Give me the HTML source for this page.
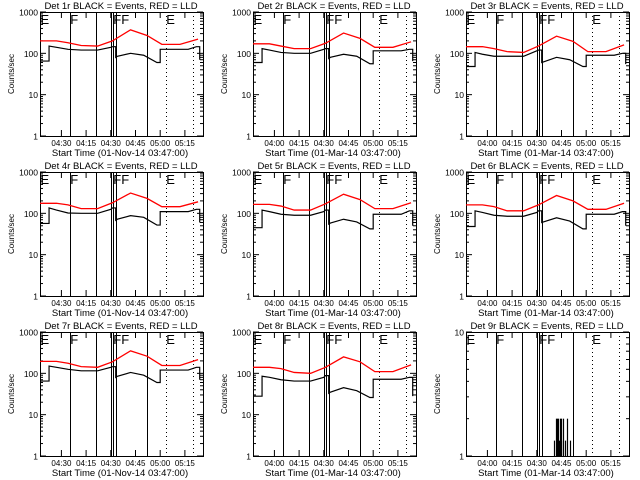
<!DOCTYPE html>
<html><head><meta charset="utf-8"><style>
html,body{margin:0;padding:0;background:#fff;}
svg{display:block;font-family:"Liberation Sans",sans-serif;}
</style></head><body>
<svg id="c" width="640" height="480" xmlns="http://www.w3.org/2000/svg"></svg>
<script>
const tBlack=[0,5,5.5,10,17,25,35,43,44,46,47,55,63,71,72,73,80,90,95,96,97];
const tRed=[0,10,17,25,35,44,55,65,74,85,96];
const detNames=["1r","2r","3r","4r","5r","6r","7r","8r","9r"];
const dates=["01-Nov-14","01-Mar-14","01-Mar-14","01-Nov-14","01-Mar-14","01-Mar-14","01-Nov-14","01-Mar-14","01-Mar-14"];
const tickLabelsA=["04:30","04:15","04:30","04:45","05:00","05:15"];
const tickLabelsB=["04:00","04:15","04:30","04:45","05:00","05:15"];
const tickMinutes=[13,28,43,58,73,88];
const black1=[65,65,150,140,125,120,120,140,145,80,85,100,90,60,60,125,125,125,145,145,70];
const black2=[60,60,130,120,105,100,100,125,130,75,80,95,85,56,56,115,115,115,125,125,65];
const black3=[48,48,105,95,85,85,85,115,120,60,62,80,70,48,48,90,90,90,100,100,55];
const black4=[57,57,135,120,102,100,100,125,135,68,72,88,80,52,52,110,110,110,125,125,60];
const black5=[45,45,120,110,95,90,90,110,120,55,58,72,62,42,42,95,95,95,115,115,50];
const black6=[48,48,115,105,90,85,85,105,115,60,62,78,65,42,42,95,95,95,110,110,50];
const black7=[65,65,150,140,125,115,115,140,145,80,85,105,90,60,60,120,120,120,140,140,70];
const black8=[28,28,85,80,70,65,65,80,88,33,35,45,38,26,26,72,72,72,80,80,28];
const red1=[200,200,180,155,150,200,370,270,165,165,220];
const red2=[170,170,150,130,130,175,310,230,140,140,190];
const red3=[145,145,130,110,105,150,260,195,110,110,160];
const red4=[175,175,160,130,130,180,310,230,145,145,190];
const red5=[165,165,150,120,120,170,290,215,130,130,180];
const red6=[160,160,145,115,115,160,270,200,125,125,175];
const red7=[195,195,175,145,140,190,350,260,155,155,215];
const red8=[140,140,130,105,100,140,250,190,110,110,160];
const spikeMinutes=[53.5,54.5,55,55.5,56,56.5,57,57.5,58,59,60,61.5,63];
const spikeValues=[1.33,2,1.33,2,2,1.33,2,2,1.33,2,1.33,2,1.33];
const blacks=[black1,black2,black3,black4,black5,black6,black7,black8,null];
const reds=[red1,red2,red3,red4,red5,red6,red7,red8,null];
const markerLines=[{m:18.2,d:false},{m:34,d:false},{m:43,d:false},{m:44.3,d:false},{m:46,d:false},{m:65,d:false},{m:76.5,d:true},{m:93,d:true}];
const markerLetters=[{m:0.3,s:"E"},{m:18.4,s:"F"},{m:44.5,s:"FF"},{m:76.7,s:"E"}];

const svg=document.getElementById('c');
const NS="http://www.w3.org/2000/svg";
function mk(tag,attrs,parent){const e=document.createElementNS(NS,tag);for(const k in attrs)e.setAttribute(k,attrs[k]);parent.appendChild(e);return e;}

for(let p=0;p<9;p++){
  const ox=(p%3)*213, oy=Math.floor(p/3)*160;
  const L=ox+40,R=ox+203,T=oy+12,B=oy+136;
  const g=mk('g',{},svg);
  
  
  const ymin=0, ymax=p===8?1:3;
  const xs=m=>L+(m/99)*(R-L);
  const ys=v=>B-((Math.log10(v)-ymin)/(ymax-ymin))*(B-T);
  const tt=mk('text',{x:ox+121,y:oy+9,'font-size':'9.5','text-anchor':'middle'},g);
  tt.textContent='Det '+detNames[p]+' BLACK = Events, RED = LLD';
  
  
  const box=mk('rect',{x:L+0.5,y:T+0.5,width:R-L,height:B-T,fill:'none',stroke:'#000','stroke-width':1},g);
  
  
  for(let d=ymin;d<=ymax;d++){
    const y=ys(Math.pow(10,d));
    mk('line',{x1:L,y1:y,x2:L+6,y2:y,stroke:'#000'},g);
    mk('line',{x1:R-6,y1:y,x2:R,y2:y,stroke:'#000'},g);
    const lb=mk('text',{x:L-2,y:y+3.5,'font-size':'8.5','text-anchor':'end'},g);
    lb.textContent=String(Math.pow(10,d));
    
    
    if(d<ymax){for(let k=2;k<10;k++){const yy=ys(k*Math.pow(10,d));
      mk('line',{x1:L,y1:yy,x2:L+3,y2:yy,stroke:'#000'},g);
      mk('line',{x1:R-3,y1:yy,x2:R,y2:yy,stroke:'#000'},g);}}
  }
  const labs=(p%3===0)?tickLabelsA:tickLabelsB;
  for(let i=0;i<tickMinutes.length;i++){
    const x=xs(tickMinutes[i]);
    mk('line',{x1:x,y1:B,x2:x,y2:B-6,stroke:'#000'},g);
    mk('line',{x1:x,y1:T,x2:x,y2:T+6,stroke:'#000'},g);
    const lb=mk('text',{x:x,y:oy+146,'font-size':'8','text-anchor':'middle'},g);
    lb.textContent=labs[i];
    
    
  }
  const xt=mk('text',{x:ox+120,y:oy+156,'font-size':'9.5','text-anchor':'middle'},g);
  xt.textContent='Start Time ('+dates[p]+' 03:47:00)';
  
  
  const yt=mk('text',{x:0,y:0,'font-size':'8','text-anchor':'middle',transform:'translate('+(ox+14)+','+(oy+74)+') rotate(-90)'},g);
  yt.textContent='Counts/sec';
  
  
  for(const ml of markerLines){
    const x=Math.round(xs(ml.m))+0.5;
    const l=mk('line',{x1:x,y1:T,x2:x,y2:B,stroke:'#000','stroke-width':1},g);
    if(ml.d)l.setAttribute('stroke-dasharray','1,3');
    
    
  }
  for(const ml of markerLetters){
    const t=mk('text',{x:xs(ml.m),y:T+12,'font-size':'13'},g);
    t.textContent=ml.s;
    
    
  }
  if(reds[p]){
    const rp=mk('polyline',{points:tRed.map((t,i)=>xs(t)+','+ys(reds[p][i])).join(' '),fill:'none',stroke:'#ff0000','stroke-width':1.3},g);
    
    
  }
  if(blacks[p]){
    const pts=[];
    for(let i=0;i<tBlack.length;i++){
      if(i>0&&Math.abs(blacks[p][i]-blacks[p][i-1])>blacks[p][i-1]*0.4) pts.push(xs(tBlack[i])+','+ys(blacks[p][i-1]));
      pts.push(xs(tBlack[i])+','+ys(blacks[p][i]));
    }
    const bp=mk('polyline',{points:pts.join(' '),fill:'none',stroke:'#000','stroke-width':1.2},g);
    
    
  } else {
    for(let i=0;i<spikeMinutes.length;i++){
      const x=Math.round(xs(spikeMinutes[i]))+0.5;
      const s=mk('line',{x1:x,y1:B,x2:x,y2:ys(spikeValues[i]),stroke:'#000','stroke-width':1.2},g);
      
      
    }
  }
}
</script>
</body></html>
